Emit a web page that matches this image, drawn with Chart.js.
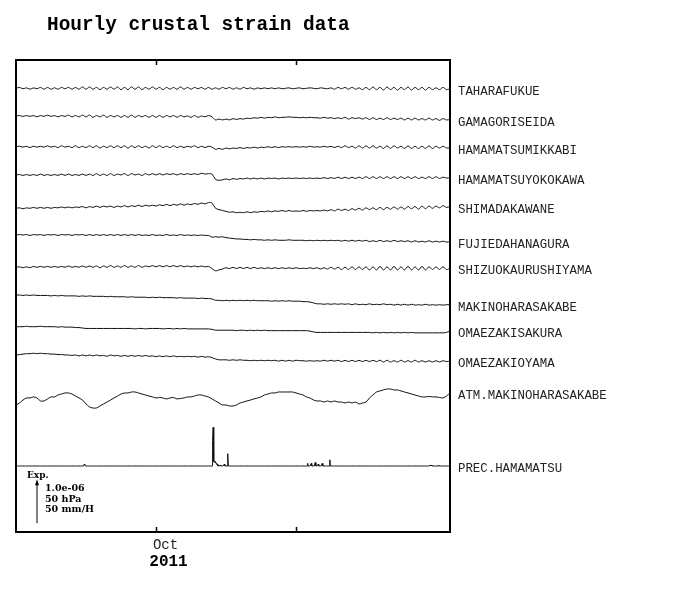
<!DOCTYPE html>
<html>
<head>
<meta charset="utf-8">
<script src="https://cdn.jsdelivr.net/npm/chart.js@4.4.1/dist/chart.umd.min.js"></script>
<style>
  html, body { margin: 0; padding: 0; background: #fff; }
</style>
</head>
<body>
<canvas id="c" width="700" height="590"></canvas>
<script>
// ---- data (6-hourly samples, 21 Sep .. 22 Oct 2011) ----
// strain in 1e-8, relative to first sample
const stepDays = 0.25;

const taharaFukue = [
  0,2,-1,1,-2,1,-1,2,-2,2, -2,1,-2,2,-1,2,-2,2,-2,3, -2,3,-2,2,-3,2,-2,3,-2,3,
  -3,2,-3,3,-2,3,-3,2,-2,3, -2,2,-3,2,-2,2,-2,3,-2,2, -2,2,-1,2,-2,2,-2,1,-2,2,
  -1,2,-2,1,-2,2,-1,1,-2,1, -1,1,-1,1,-1,1,-1,0,1,-1, 0,1,-1,0,1,0,-1,1,0,-1,
  1,-2,2,-1,2,-2,2,-2,1,-3, 2,-3,3,-3,2,-4,3,-3,2,-4, 2,-3,3,-4,2,-3,2,-4,2,-3,
  1,-3,2,-3,-1];
const gamagoriSeida = [
  0,1,-1,1,-1,1,-2,1,-1,2, -1,1,-2,1,-1,2,-2,1,-2,2, -2,2,-3,1,-2,2,-3,1,-2,1,
  -3,1,-3,2,-3,1,-2,1,-3,1, -3,1,-3,1,-2,1,-3,1,-2,0, -3,1,-3,0,-2,1,-2,
  -9,-7,-9, -7,-9,-6,-8,-6,-7,-5,-6,-4,-5, -3,-5,-3,-4,-2,-4,-3,-3,-2,-3,
  -3,-4,-3,-4,-3,-4,-4,-5,-3,-5, -4,-6,-4,-6,-3,-7,-4,-6,-4,-7,
  -4,-8,-4,-8,-5,-8,-4,-8,-5,-8, -5,-9,-5,-9,-5,-9,-6,-9,-5,-9, -6,-10,-6,-9,-8];
const hamamatsuMikkabi = [
  0,1,-1,1,-2,1,-1,1,-1,2, -1,1,-2,2,-1,1,-2,2,-2,1, -2,2,-2,2,-3,1,-2,2,-2,2,
  -2,2,-3,2,-2,2,-2,1,-3,2, -2,2,-2,1,-2,2,-2,1,-2,1, -1,2,-2,1,-2,1,-1,
  -6,-4,-6, -3,-5,-3,-4,-2,-4,-2,-3,-1,-3, -1,-2,0,-2,0,-2,0,-1,0,-1,
  0,-1,0,-1,1,-1,0,-1,1,-1, 1,-2,1,-2,2,-2,1,-3,2,-3,
  2,-3,2,-3,1,-4,2,-4,2,-3, 1,-4,2,-4,1,-4,1,-4,2,-4, 1,-3,1,-3,-2];
const hamamatsuYokokawa = [
  0,1,-1,1,-1,1,-1,2,-1,1, -1,1,-1,2,-1,2,-1,1,-1,2, -1,2,-1,3,-1,2,-1,3,-1,2,
  0,3,-1,3,0,2,-1,3,0,3, 0,3,0,3,1,3,0,3,1,3, 1,3,1,4,2,3,2,
  -10,-12,-11, -9,-11,-8,-10,-8,-9,-7,-9,-7,-9, -7,-9,-7,-8,-7,-9,-7,-8,-7,-8,
  -7,-8,-7,-8,-7,-8,-7,-8,-6,-8, -6,-8,-5,-8,-5,-8,-5,-8,-5,-8,
  -4,-8,-4,-8,-4,-8,-4,-8,-4,-8, -4,-8,-4,-8,-4,-8,-5,-8,-4,-8, -4,-8,-5,-7,-6];
const shimadaKawane = [
  0,1,-1,1,0,2,0,2,0,2, 0,2,1,3,1,3,1,3,2,4, 1,4,2,5,2,5,3,5,2,5,
  3,6,3,6,4,7,4,7,5,7, 5,8,6,9,6,9,7,10,7,10, 8,11,9,12,10,13,12,
  0,-3,-5, -7,-9,-8,-10,-9,-10,-8,-10,-8,-9, -7,-8,-6,-8,-6,-7,-5,-7,-5,-7,
  -6,-7,-5,-7,-5,-6,-5,-6,-4,-6, -3,-6,-2,-5,-2,-5,-1,-4,0,-4,
  1,-3,1,-3,2,-3,2,-2,3,-2, 3,-2,4,-1,4,-2,5,-1,5,0, 5,1,6,2,4];
const fujiedaHanagura = [
  0,1,0,1,-1,1,0,1,-1,1, 0,1,-1,1,0,1,-1,1,0,1, -1,1,-1,1,-1,1,-1,1,-1,1,
  -1,1,-1,1,-1,1,-1,0,-1,1, -1,0,-1,1,-1,0,-1,1,-1,0, -1,0,-1,0,-1,-1,-5,
  -4,-5,-4, -6,-7,-8,-9,-9,-10,-10,-11,-10,-11, -11,-12,-11,-12,-11,-12,-12,-12,-11,-12,
  -12,-12,-12,-13,-12,-13,-12,-13,-12,-13, -12,-13,-12,-14,-12,-14,-12,-14,-12,-14,
  -12,-15,-13,-15,-12,-15,-13,-15,-12,-15, -13,-15,-13,-16,-13,-16,-14,-16,-13,-16, -14,-16,-14,-16,-15];
const shizuokaUrushiyama = [
  0,1,-1,1,-1,2,0,2,0,2, 0,2,0,2,0,3,0,2,0,3, 0,3,0,3,-1,3,0,4,0,3,
  0,4,0,3,0,4,0,3,1,4, 1,4,1,4,1,4,1,4,1,3, 1,3,1,3,1,2,-3,
  -8,-6,-4, -1,-3,0,-3,0,-3,0,-3,0,-3, -1,-3,-1,-3,-1,-3,-1,-3,-1,-3,
  -1,-3,-2,-3,-1,-3,-1,-4,-1,-4, 0,-4,0,-5,0,-5,1,-5,1,-5,
  1,-6,1,-6,2,-6,1,-6,2,-6, 1,-6,2,-6,1,-6,2,-6,1,-5, 1,-5,1,-5,-2];
const makinoharaSakabe = [
  0,0,-1,0,-1,0,-1,-1,-1,-1, -2,-1,-2,-1,-2,-2,-2,-2,-3,-2, -3,-2,-3,-3,-3,-3,-4,-3,-4,-4,
  -4,-4,-5,-4,-5,-5,-5,-5,-6,-5, -6,-5,-6,-6,-6,-6,-7,-6,-7,-7, -7,-7,-8,-7,-8,-8,-9,
  -12,-12,-13, -12,-13,-12,-13,-12,-13,-12,-13,-12,-13, -13,-13,-13,-14,-13,-14,-13,-14,-13,-14,
  -14,-14,-15,-15,-16,-18,-20,-20,-21,-20, -21,-20,-21,-20,-21,-20,-22,-20,-22,-21,
  -22,-20,-22,-21,-22,-20,-22,-21,-23,-21, -23,-21,-23,-21,-23,-22,-23,-21,-23,-22, -23,-22,-23,-22,-22];
const omaezakiSakura = [
  0,0,0,1,0,0,0,1,0,0, 0,0,-1,0,-1,-1,-1,-2,-2,-3, -4,-4,-4,-4,-4,-4,-4,-4,-4,-4,
  -4,-4,-4,-4,-5,-4,-4,-5,-4,-4, -4,-4,-5,-4,-4,-5,-4,-5,-4,-5, -5,-5,-5,-5,-5,-5,-6,
  -8,-8,-8, -8,-8,-8,-9,-8,-8,-9,-8,-9,-8, -9,-8,-9,-9,-9,-9,-9,-9,-9,-9,
  -9,-9,-9,-9,-10,-12,-13,-13,-13,-13, -13,-13,-13,-13,-13,-13,-13,-13,-13,-13,
  -13,-13,-14,-13,-14,-13,-14,-13,-14,-13, -14,-13,-14,-13,-14,-14,-14,-14,-14,-14, -14,-14,-14,-13,-10];
const omaezakiOyama = [
  0,1,2,3,3,4,3,4,3,3, 2,2,1,1,0,0,-1,0,-2,0, -2,0,-2,0,-2,-1,-3,0,-2,-1,
  -3,-1,-3,-1,-3,-1,-3,-1,-3,-2, -4,-2,-4,-2,-4,-2,-4,-3,-4,-3, -4,-3,-5,-3,-5,-4,-6,
  -9,-11,-11, -11,-12,-11,-12,-11,-12,-12,-13,-12,-13, -12,-13,-12,-13,-12,-14,-12,-14,-12,-14,
  -12,-13,-13,-14,-13,-14,-13,-14,-12,-14, -12,-14,-12,-15,-12,-15,-12,-15,-12,-15,
  -12,-15,-12,-15,-12,-16,-12,-16,-13,-16, -12,-16,-13,-16,-12,-16,-13,-16,-13,-16, -13,-16,-13,-15,-14];
// atmospheric pressure, hPa
const atmMakinohara = [
  1004.4,1006.6,1010,1012.3,1012.3,1013.5,1012.3,1008.9,1008.9,1011.2,
  1013.5,1013.5,1015.7,1016.8,1018,1018,1016.8,1014.5,1012.3,1010,
  1005.5,1002.1,1000.9,1000.9,1003.2,1005.5,1007.7,1010,1012.3,1014.5,
  1016.8,1018,1018,1019.1,1019.1,1018,1016.8,1015.7,1014.5,1013.5,
  1012.3,1012.9,1012.3,1011.2,1012.3,1012.9,1011.2,1011.8,1012.3,1013.5,
  1013.5,1014.5,1015.7,1015.7,1014.5,1013.5,1011.2,1008.9,1006.6,1004.4,
  1004.4,1003.2,1003.2,1004.4,1006.6,1007.7,1008.9,1010,1011.2,1012.3,
  1013.5,1015.7,1016.8,1018,1018,1019.1,1019.1,1019.1,1019.1,1019.1,
  1018,1016.8,1015.7,1013.5,1012.3,1010,1008.9,1008.9,1007.7,1008.9,
  1007.7,1008.9,1007.7,1007.7,1006.6,1007.7,1006.6,1007.7,1005.5,1006.6,
  1007.7,1012.3,1015.7,1019.1,1020.3,1021.4,1022.5,1022.5,1021.4,1021.4,
  1020.3,1019.1,1018,1016.8,1015.7,1014.5,1013.5,1013.5,1014,1013.5,
  1013.5,1012.9,1012.3,1014.5,1018];
// hourly precipitation, mm/h (hours since start; other hours are 0)
const precHours = [116, 117, 118, 337, 338, 339, 340, 341, 342, 343, 344, 345, 350, 357, 363,
                   500, 506, 513, 518, 525, 538, 710, 712, 725];
const precMm    = [1, 2, 1, 29, 44, 5, 5, 4, 5, 3, 2, 2, 1, 2, 14,
                   3, 3, 4, 2, 3, 7, 1, 1, 1];
const totalHours = 744;

const stationNames = ['TAHARAFUKUE', 'GAMAGORISEIDA', 'HAMAMATSUMIKKABI', 'HAMAMATSUYOKOKAWA',
  'SHIMADAKAWANE', 'FUJIEDAHANAGURA', 'SHIZUOKAURUSHIYAMA', 'MAKINOHARASAKABE',
  'OMAEZAKISAKURA', 'OMAEZAKIOYAMA', 'ATM.MAKINOHARASAKABE', 'PREC.HAMAMATSU'];
const strainSeries = [taharaFukue, gamagoriSeida, hamamatsuMikkabi, hamamatsuYokokawa,
  shimadaKawane, fujiedaHanagura, shizuokaUrushiyama, makinoharaSakabe, omaezakiSakura, omaezakiOyama];

const xTickDays = [10, 20];
const xTickLabels = ['Oct', ''];
const yearLabel = '2011';

// ---- layout: where each trace sits on the y axis (1 unit = 1e-6 / 50 hPa / 50 mm/H) ----
const strainBase = [10.084, 9.455, 8.757, 8.114, 7.357, 6.75, 6.016, 5.386, 4.666, 4.023];
const atmBase = 3.0, atmRef = 1010;
const precBase = 1.5;

const datasets = strainSeries.map((s, i) => ({
  label: stationNames[i],
  data: s.map((v, k) => ({ x: k * stepDays, y: strainBase[i] + v / 100 })),
  tension: 0.35,
}));
datasets.push({
  label: stationNames[10],
  data: atmMakinohara.map((v, k) => ({ x: k * stepDays, y: atmBase + (v - atmRef) / 50 })),
  tension: 0.3,
});
const precPts = [];
for (let h = 0; h <= totalHours; h++) {
  const i = precHours.indexOf(h);
  precPts.push({ x: h / 24, y: precBase + (i >= 0 ? precMm[i] : 0) / 50 });
}
datasets.push({ label: stationNames[11], data: precPts, tension: 0 });
datasets.forEach(d => Object.assign(d, {
  borderColor: '#111', borderWidth: 1, pointRadius: 0, fill: false,
}));

const decor = {
  id: 'decor',
  afterDatasetsDraw(chart) {
    const { ctx, chartArea: a, scales: { x, y } } = chart;
    ctx.save();
    ctx.strokeStyle = '#000';
    ctx.lineWidth = 2;
    ctx.strokeRect(a.left, a.top, a.right - a.left, a.bottom - a.top);

    // inward ticks + month label
    ctx.lineWidth = 1.5;
    ctx.fillStyle = '#222';
    xTickDays.forEach((d, i) => {
      const px = Math.round(x.getPixelForValue(d)) + 0.5;
      ctx.beginPath();
      ctx.moveTo(px, a.top); ctx.lineTo(px, a.top + 5);
      ctx.moveTo(px, a.bottom); ctx.lineTo(px, a.bottom - 5);
      ctx.stroke();
      if (xTickLabels[i]) {
        ctx.font = '14px "Liberation Mono"';
        ctx.textAlign = 'center'; ctx.textBaseline = 'middle';
        ctx.fillText(xTickLabels[i], px + 9, a.bottom + 13);
        ctx.font = 'bold 16px "Liberation Mono"';
        ctx.fillStyle = '#000';
        ctx.fillText(yearLabel, px + 12, a.bottom + 30);
        ctx.fillStyle = '#222';
      }
    });

    // station names at the right of each trace
    ctx.font = '12.4px "Liberation Mono"';
    ctx.textAlign = 'left'; ctx.textBaseline = 'middle';
    chart.data.datasets.forEach(ds => {
      const last = ds.data[ds.data.length - 1];
      ctx.fillText(ds.label, a.right + 8, y.getPixelForValue(last.y) + 3);
    });

    // title
    ctx.fillStyle = '#000';
    ctx.font = 'bold 19.4px "Liberation Mono"';
    ctx.fillText('Hourly crustal strain data', 47, 25);

    // scale bar: arrow is one y unit long
    const ax = 37, y0 = y.getPixelForValue(0.2), y1 = y.getPixelForValue(1.2);
    ctx.lineWidth = 1;
    ctx.beginPath(); ctx.moveTo(ax, y0); ctx.lineTo(ax, y1 + 3); ctx.stroke();
    ctx.beginPath(); ctx.moveTo(ax, y1); ctx.lineTo(ax - 2, y1 + 6); ctx.lineTo(ax + 2, y1 + 6); ctx.closePath(); ctx.fill();
    ctx.font = 'bold 9px "DejaVu Serif"';
    ctx.fillText('Exp.', 27, 476);
    ctx.font = 'bold 9.5px "DejaVu Serif"';
    ctx.fillText('1.0e-06', 45, 489);
    ctx.fillText('50 hPa', 45, 499.5);
    ctx.fillText('50 mm/H', 45, 510);
    ctx.restore();
  }
};

new Chart(document.getElementById('c'), {
  type: 'line',
  data: { datasets },
  options: {
    responsive: false,
    animation: false,
    layout: { padding: { left: 16, top: 60, right: 250, bottom: 58 } },
    plugins: { legend: { display: false }, tooltip: { enabled: false }, title: { display: false } },
    scales: {
      x: { type: 'linear', min: 0, max: 31, display: false },
      y: { type: 'linear', min: 0, max: 472 / 44, display: false },
    },
  },
  plugins: [decor],
});
</script>
</body>
</html>
